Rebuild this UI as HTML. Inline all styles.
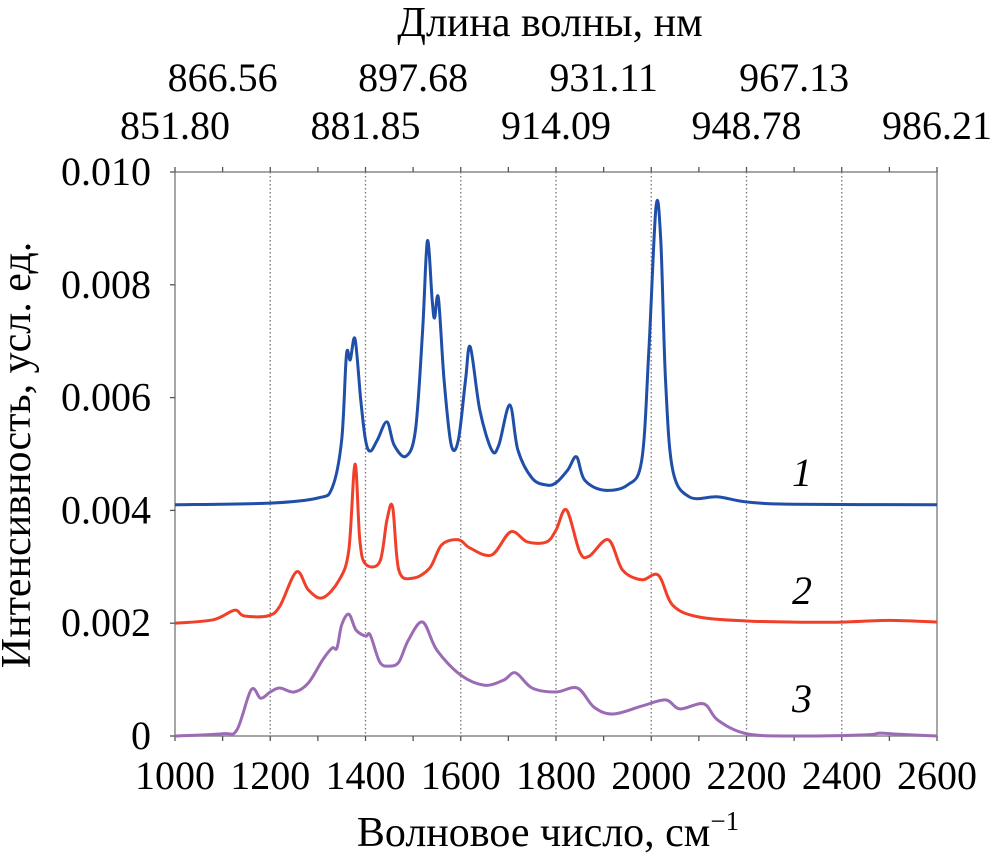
<!DOCTYPE html>
<html><head><meta charset="utf-8"><style>
body{margin:0;background:#fff}
svg{display:block;font-family:"Liberation Serif","DejaVu Serif",serif}
</style></head><body>
<svg id="c" width="996" height="862" viewBox="0 0 996 862"></svg>
<script>
const xTicks=[1000,1200,1400,1600,1800,2000,2200,2400,2600];
const yTicks=[0,0.002,0.004,0.006,0.008,0.010];
const yTickLabels=["0","0.002","0.004","0.006","0.008","0.010"];
const topRow1=[[1100,"866.56"],[1500,"897.68"],[1900,"931.11"],[2300,"967.13"]];
const topRow2=[[1000,"851.80"],[1400,"881.85"],[1800,"914.09"],[2200,"948.78"],[2600,"986.21"]];
const s1x=[1000,1200,1300,1330,1350,1360,1368,1378,1390,1400,1410,1425,1445,1460,1485,1505,1520,1530,1540,1545,1553,1565,1580,1595,1610,1620,1640,1665,1680,1703,1720,1750,1780,1800,1825,1843,1860,1900,1950,1980,1995,2010,2020,2030,2045,2080,2140,2200,2300,2600];
const s1y=[4.10,4.13,4.22,4.40,5.25,6.76,6.67,7.04,5.96,5.25,5.05,5.25,5.57,5.16,4.96,5.43,7.20,8.78,7.73,7.41,7.77,6.31,5.16,5.25,6.31,6.90,5.78,5.07,5.16,5.87,5.07,4.57,4.45,4.49,4.72,4.95,4.54,4.36,4.45,4.89,6.84,9.38,8.79,6.31,4.72,4.24,4.24,4.15,4.11,4.10];
const s2x=[1000,1080,1125,1145,1195,1220,1255,1280,1310,1345,1365,1378,1388,1400,1430,1445,1457,1470,1500,1535,1560,1595,1620,1665,1705,1740,1780,1800,1822,1850,1870,1910,1940,1980,2015,2045,2100,2200,2300,2400,2500,2600];
const s2y=[2.00,2.06,2.23,2.13,2.13,2.30,2.91,2.59,2.45,2.77,3.30,4.82,3.48,3.05,3.09,3.83,4.06,2.94,2.80,2.98,3.39,3.48,3.33,3.21,3.62,3.44,3.44,3.65,4.01,3.26,3.19,3.48,2.94,2.77,2.85,2.32,2.11,2.04,2.02,2.02,2.05,2.02];
const s3x=[1000,1100,1130,1160,1180,1200,1220,1250,1280,1310,1330,1340,1350,1365,1380,1400,1410,1430,1450,1470,1490,1520,1550,1600,1650,1690,1715,1750,1800,1845,1880,1920,1980,2030,2060,2110,2140,2200,2300,2450,2480,2520,2600];
const s3y=[0,0.04,0.11,0.82,0.67,0.78,0.85,0.78,0.94,1.35,1.56,1.56,1.97,2.16,1.88,1.77,1.79,1.31,1.24,1.31,1.70,2.02,1.52,1.08,0.90,0.99,1.12,0.85,0.78,0.85,0.51,0.39,0.53,0.64,0.48,0.57,0.28,0.04,0,0.02,0.05,0.03,0];
const NS="http://www.w3.org/2000/svg";
const svg=document.getElementById('c');
const X0=175,X1=937,Y0=736,Y1=172;
const sx=v=>X0+(v-1000)*(X1-X0)/1600;
const sy=v=>Y0-v*(Y0-Y1)/0.010;
function mk(t,a,p){const e=document.createElementNS(NS,t);for(const k in a)e.setAttribute(k,a[k]);(p||svg).appendChild(e);return e;}
for(const t of xTicks.slice(1,-1)){
 const l=mk('line',{x1:sx(t),x2:sx(t),y1:Y1,y2:Y0,stroke:'#777','stroke-width':1.3,'stroke-dasharray':'1.5,2.5'});
 
 
}
const fr=mk('rect',{x:X0,y:Y1,width:X1-X0,height:Y0-Y1,fill:'none',stroke:'#888','stroke-width':1.5});


for(let t=1000;t<=2600;t+=100){
 mk('line',{x1:sx(t),x2:sx(t),y1:Y0,y2:Y0+5,stroke:'#555','stroke-width':1.3});
 mk('line',{x1:sx(t),x2:sx(t),y1:Y1,y2:Y1-5,stroke:'#555','stroke-width':1.3});
}
for(let i=0;i<xTicks.length;i++){
 const tx=mk('text',{x:sx(xTicks[i]),y:789,'font-size':40,'text-anchor':'middle'});
 tx.textContent=xTicks[i];
 
 
}
for(let i=0;i<yTicks.length;i++){
 mk('line',{x1:X0-5,x2:X0,y1:sy(yTicks[i]),y2:sy(yTicks[i]),stroke:'#555','stroke-width':1.3});
 const tx=mk('text',{x:151,y:sy(yTicks[i])+13,'font-size':40,'text-anchor':'end'});
 tx.textContent=yTickLabels[i];
 
 
}
for(const [v,l] of topRow1){
 const tx=mk('text',{x:sx(v),y:91,'font-size':40,'text-anchor':'middle'});tx.textContent=l;
 
 
}
for(const [v,l] of topRow2){
 const tx=mk('text',{x:sx(v),y:139,'font-size':40,'text-anchor':'middle'});tx.textContent=l;
 
 
}
function path(xs,ys,col,name){
 const P=xs.map((x,i)=>[sx(x),sy(ys[i]/1000)]);
 let d='M'+P[0][0]+','+P[0][1];
 for(let i=0;i<P.length-1;i++){
  const p0=P[Math.max(0,i-1)],p1=P[i],p2=P[i+1],p3=P[Math.min(P.length-1,i+2)];
  const c1=[p1[0]+(p2[0]-p0[0])/6,p1[1]+(p2[1]-p0[1])/6];
  const c2=[p2[0]-(p3[0]-p1[0])/6,p2[1]-(p3[1]-p1[1])/6];
  d+=` C${c1[0]},${c1[1]} ${c2[0]},${c2[1]} ${p2[0]},${p2[1]}`;
 }
 const e=mk('path',{d,fill:'none',stroke:col,'stroke-width':3,'stroke-linejoin':'round'});
 
 
}
path(s3x,s3y,'#9b6bb5','series-3-line');
path(s2x,s2y,'#f0402a','series-2-line');
path(s1x,s1y,'#1f4fa8','series-1-line');
</script>
<div style="position:absolute;left:0;top:0;width:996px;height:862px;pointer-events:none">
<svg width="996" height="862" style="font-family:'Liberation Serif',serif">
<text x="550" y="36" font-size="42" text-anchor="middle">Длина волны, нм</text>
<text x="548" y="846" font-size="42" text-anchor="middle">Волновое число, см<tspan font-size="27" dy="-16">−1</tspan></text>
<text transform="translate(30,455) rotate(-90)" font-size="42" text-anchor="middle">Интенсивность, усл. ед.</text>
<text x="802" y="486" font-size="40" font-style="italic" text-anchor="middle">1</text>
<text x="802" y="604" font-size="40" font-style="italic" text-anchor="middle">2</text>
<text x="802" y="712" font-size="40" font-style="italic" text-anchor="middle">3</text>
</svg></div>
</body></html>
